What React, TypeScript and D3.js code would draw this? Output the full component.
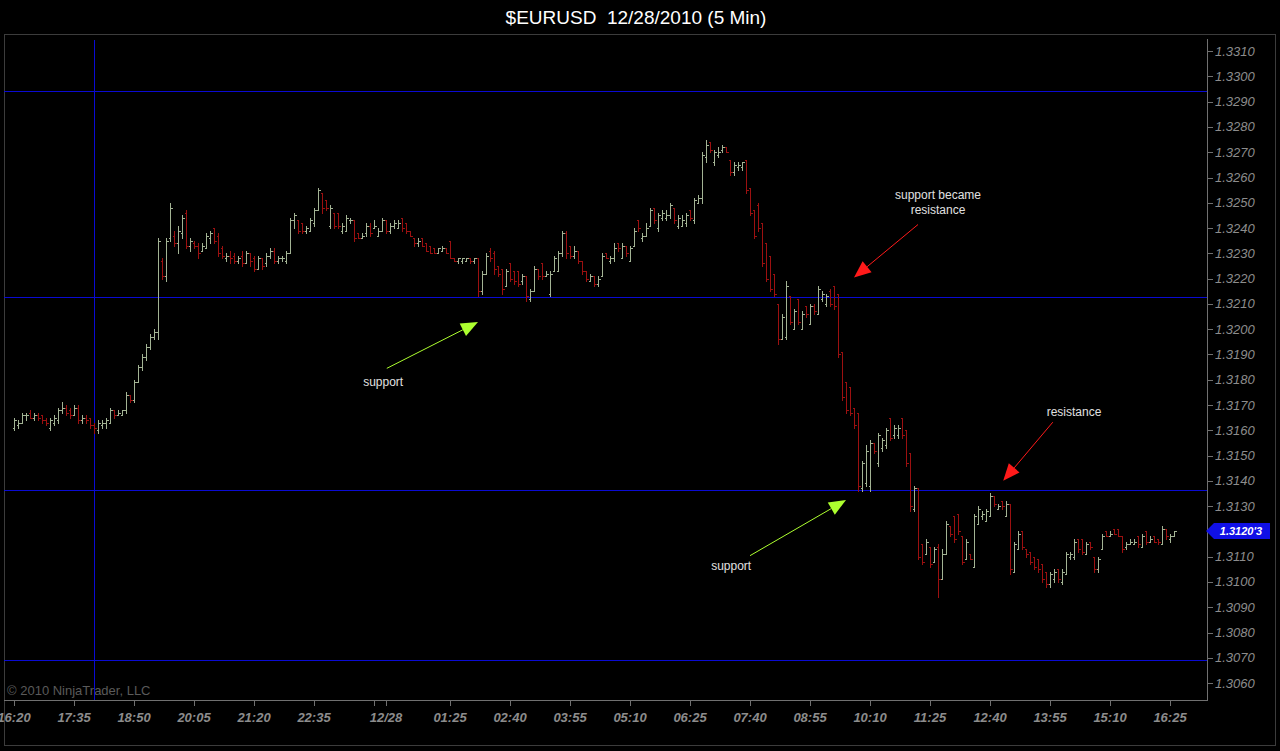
import React from 'react'
import * as d3 from 'd3'

// prices are kept in pips above 1.3000 -> price = BASE + p * PIP
const BASE = 1.3
const PIP = 0.0001

// 5 min OHLC bars [open, high, low, close], first bar 16:20 on 12/27
const dec27Bars: number[][] = [
  [161, 165, 160, 164], [162, 164, 161, 163], [163, 167, 163, 166], [166, 167, 164, 166],
  [167, 168, 165, 165], [165, 167, 164, 166], [166, 167, 164, 165], [166, 166, 163, 164],
  [164, 165, 162, 163], [161, 165, 160, 164], [163, 166, 162, 165], [164, 169, 163, 168],
  [168, 171, 167, 169], [169, 170, 166, 167], [168, 169, 165, 166], [166, 170, 166, 169],
  [169, 170, 163, 164], [164, 166, 163, 165], [165, 166, 163, 164], [165, 165, 161, 162],
  [162, 163, 159, 161], [160, 164, 159, 163], [162, 164, 161, 163], [163, 165, 161, 164],
  [163, 169, 163, 168], [168, 168, 165, 166], [166, 168, 166, 167], [166, 168, 166, 168],
  [168, 175, 167, 174], [174, 174, 171, 172], [172, 180, 171, 179], [179, 186, 179, 185],
  [185, 190, 184, 189], [189, 194, 188, 193], [193, 198, 192, 197], [197, 200, 196, 199],
  [199, 236, 196, 235], [227, 228, 220, 221], [221, 236, 219, 235], [236, 250, 235, 248],
  [237, 239, 233, 234], [234, 241, 230, 239], [238, 245, 236, 244], [246, 247, 232, 233],
  [233, 236, 231, 235], [234, 235, 232, 233], [233, 234, 228, 230], [231, 234, 231, 233],
  [232, 238, 232, 237], [236, 239, 234, 238], [240, 240, 234, 235], [237, 238, 229, 230],
  [232, 233, 228, 229], [228, 230, 227, 229], [229, 231, 226, 228], [229, 230, 226, 227],
  [227, 229, 226, 228], [229, 231, 225, 226], [226, 231, 226, 230], [230, 230, 225, 227],
  [228, 229, 223, 224], [224, 229, 224, 228], [228, 228, 224, 225], [226, 230, 225, 229],
  [229, 232, 228, 231], [231, 232, 226, 227], [227, 229, 226, 228], [228, 229, 227, 228],
  [227, 231, 226, 230], [230, 244, 230, 243], [243, 246, 240, 245], [243, 243, 238, 239],
  [242, 242, 238, 239], [239, 241, 238, 240], [239, 244, 239, 243], [242, 248, 241, 247],
  [247, 256, 247, 255], [254, 254, 246, 248], [251, 251, 247, 248], [241, 249, 240, 248],
  [246, 246, 240, 241], [246, 246, 240, 241], [239, 242, 238, 241], [239, 245, 239, 244],
  [243, 244, 242, 243], [243, 243, 235, 236], [238, 238, 236, 236], [236, 238, 236, 237],
  [238, 242, 237, 241], [241, 242, 237, 238], [240, 243, 240, 241], [237, 240, 237, 239],
  [239, 244, 239, 243]
]

const dec28AsiaBars: number[][] = [
  [243, 243, 238, 239], [239, 242, 238, 241], [241, 243, 240, 242], [240, 243, 240, 242],
  [244, 244, 239, 240], [242, 242, 238, 239], [239, 239, 237, 237], [236, 236, 233, 234],
  [234, 236, 233, 235], [236, 236, 233, 233], [234, 234, 231, 231], [233, 233, 230, 230],
  [232, 232, 230, 230], [230, 232, 230, 232], [231, 233, 231, 232], [232, 232, 230, 230],
  [235, 235, 228, 228], [228, 228, 227, 227], [227, 228, 226, 228], [227, 228, 226, 228],
  [227, 228, 227, 228], [228, 228, 226, 227], [227, 228, 226, 228], [228, 228, 213, 215],
  [215, 223, 214, 222], [222, 230, 222, 229], [231, 232, 227, 228], [230, 231, 222, 224],
  [225, 225, 221, 222], [224, 224, 214, 216], [217, 224, 217, 223], [226, 226, 219, 220],
  [223, 223, 218, 219], [223, 223, 217, 218], [219, 222, 218, 221], [221, 221, 211, 213],
  [212, 216, 211, 215], [215, 225, 215, 224], [224, 224, 220, 221], [226, 226, 220, 221],
  [221, 223, 221, 222], [214, 223, 213, 222], [223, 229, 223, 228], [223, 231, 223, 230],
  [230, 239, 229, 238], [238, 239, 228, 230], [233, 233, 228, 229], [229, 233, 228, 231],
  [231, 231, 226, 227], [227, 227, 222, 223], [223, 223, 219, 220], [219, 222, 219, 221],
  [221, 221, 217, 218], [218, 221, 217, 220], [221, 230, 221, 229], [230, 230, 228, 228],
  [227, 229, 226, 228], [228, 234, 227, 232], [234, 234, 231, 232], [228, 234, 228, 233],
  [233, 233, 229, 230], [227, 233, 227, 232], [233, 240, 233, 239], [243, 243, 239, 240],
  [236, 238, 235, 237], [237, 242, 237, 240], [241, 248, 241, 247], [248, 248, 242, 243],
  [240, 246, 239, 245], [244, 247, 243, 246], [244, 247, 243, 245], [245, 250, 244, 249],
  [248, 248, 242, 243], [241, 245, 240, 244], [241, 245, 241, 243], [242, 246, 241, 245],
  [247, 247, 243, 244], [243, 252, 242, 251], [250, 253, 250, 252], [252, 270, 250, 269],
  [268, 275, 266, 273], [274, 274, 270, 271], [266, 271, 265, 270], [269, 272, 268, 270],
  [271, 273, 270, 272], [272, 272, 270, 270], [267, 267, 261, 262], [262, 266, 261, 265],
  [264, 266, 263, 265], [264, 266, 263, 266], [267, 267, 254, 255], [256, 256, 245, 246]
]

const dec28EuBars: number[][] = [
  [247, 247, 236, 237], [249, 250, 239, 240], [242, 242, 225, 226], [234, 234, 219, 220],
  [229, 229, 215, 216], [222, 222, 213, 214], [210, 210, 194, 196], [196, 206, 196, 205],
  [197, 219, 196, 217], [213, 213, 202, 203], [200, 208, 200, 207], [212, 212, 202, 203],
  [200, 207, 200, 206], [209, 209, 205, 206], [202, 210, 202, 209], [209, 210, 206, 207],
  [206, 217, 206, 216], [212, 215, 211, 214], [210, 214, 209, 213], [215, 216, 209, 210],
  [217, 217, 208, 209], [214, 214, 189, 190], [191, 191, 172, 173], [179, 179, 167, 168],
  [177, 177, 166, 167], [169, 169, 161, 162], [167, 167, 136, 138], [137, 148, 136, 147],
  [139, 154, 138, 152], [138, 156, 136, 155], [155, 155, 151, 152], [147, 159, 146, 158],
  [153, 157, 152, 156], [154, 161, 153, 160], [165, 165, 156, 157], [158, 162, 157, 161],
  [158, 162, 157, 161], [165, 165, 157, 158], [160, 160, 146, 147], [151, 151, 128, 130],
  [129, 138, 128, 137], [137, 137, 109, 110], [115, 115, 107, 108], [111, 117, 111, 116],
  [114, 114, 106, 107], [108, 114, 108, 113], [114, 115, 94, 101], [101, 113, 101, 111],
  [111, 124, 111, 123], [122, 122, 118, 119], [126, 126, 116, 117], [127, 127, 119, 120],
  [118, 118, 107, 108], [109, 117, 109, 116], [111, 111, 109, 109], [106, 127, 106, 126],
  [123, 130, 123, 129], [126, 128, 125, 127], [124, 129, 124, 128], [126, 135, 126, 134],
  [134, 134, 130, 131], [129, 131, 129, 130], [132, 132, 129, 130], [126, 132, 126, 131],
  [131, 131, 103, 105], [104, 116, 104, 115], [113, 120, 113, 119], [120, 120, 113, 114],
  [113, 113, 110, 111], [112, 112, 107, 108], [110, 110, 105, 106], [109, 109, 104, 105],
  [107, 107, 100, 101], [104, 104, 98, 99], [99, 104, 98, 103], [101, 105, 100, 104],
  [105, 105, 100, 101], [100, 105, 99, 104], [103, 112, 103, 111], [110, 112, 109, 111],
  [110, 117, 109, 116], [117, 117, 112, 113], [117, 117, 111, 112], [111, 116, 111, 115],
  [116, 116, 113, 114], [110, 110, 104, 105], [105, 110, 104, 109], [113, 119, 113, 118],
  [120, 120, 118, 118], [118, 120, 118, 119], [121, 121, 119, 119], [121, 121, 118, 118],
  [118, 118, 112, 113], [114, 116, 113, 115], [115, 117, 115, 116], [115, 117, 115, 116],
  [118, 118, 114, 115], [114, 119, 114, 118], [120, 120, 115, 116], [116, 118, 116, 117],
  [118, 118, 116, 116], [117, 117, 115, 116], [115, 122, 115, 121], [121, 121, 117, 118],
  [117, 119, 116, 118], [118, 120, 118, 120.3]
]

// time axis: bar index of each tick and its label
const tickBars = [0, 15, 30, 45, 60, 75, 90, 93, 109, 124, 139, 154, 169, 184, 199, 214, 229, 244, 259, 274, 289]
const tickLabels = ['16:20', '17:35', '18:50', '20:05', '21:20', '22:35', '', '12/28', '01:25', '02:40', '03:55',
  '05:10', '06:25', '07:40', '08:55', '10:10', '11:25', '12:40', '13:55', '15:10', '16:25']

const priceTicks = [1.306, 1.307, 1.308, 1.309, 1.31, 1.311, 1.312, 1.313, 1.314, 1.315, 1.316, 1.317, 1.318,
  1.319, 1.32, 1.321, 1.322, 1.323, 1.324, 1.325, 1.326, 1.327, 1.328, 1.329, 1.33, 1.331]

// drawn horizontal lines and the vertical marker bar
const levelPrices = [1.32942, 1.32127, 1.31363, 1.30691]
const markerBar = 20
const lastPriceLabel = "1.3120'3"

// annotations: text anchor + arrow tail and tip, in (bar index, pips)
const notes = [
  { lines: ['support'], at: [92.3, 178.7], tail: [93.2, 184.5], tip: [116, 202.8], color: '#adff2f' },
  { lines: ['support became', 'resistance'], at: [231, 252.6], tail: [226, 241.4], tip: [210, 220.4], color: '#ff1a1a' },
  { lines: ['support'], at: [179.3, 105.9], tail: [184, 110.4], tip: [208, 132.4], color: '#adff2f' },
  { lines: ['resistance'], at: [265, 166.8], tail: [259.7, 163.2], tip: [247.3, 140], color: '#ff1a1a' }
]

const W = 1280
const H = 751
const plot = { left: 4, right: 1207, top: 40, bottom: 700 }
const font = 'Arial, "Liberation Sans", sans-serif'
const upColor = '#a3b394'
const downColor = '#9c1010'
const levelColor = '#0a0ad2'

const App = () => {
  const bars = [...dec27Bars, ...dec28AsiaBars, ...dec28EuBars]
  const x = d3.scaleLinear().domain([0, 290]).range([14, 1174])
  const y = d3.scaleLinear().domain([1.30533, 1.33144]).range([plot.bottom, plot.top])
  const yp = (p: number) => y(BASE + p * PIP)
  const px = (v: number) => Math.round(v) + 0.5

  const barPaths = bars.map((b, i) => {
    const [o, h, l, c] = b
    const cx = px(x(i))
    const d = `M${cx},${Math.round(yp(h))}V${Math.round(yp(l)) + 1}` +
      `M${cx - 2},${px(yp(o))}H${cx}M${cx},${px(yp(c))}H${cx + 2}`
    return <path key={i} d={d} stroke={c >= o ? upColor : downColor} strokeWidth={1} fill="none" />
  })

  const arrows = notes.map((n, k) => {
    const x0 = x(n.tail[0]), y0 = yp(n.tail[1])
    const x1 = x(n.tip[0]), y1 = yp(n.tip[1])
    const ang = Math.atan2(y1 - y0, x1 - x0)
    const len = 17, half = 7
    const bx = x1 - len * Math.cos(ang), by = y1 - len * Math.sin(ang)
    const nx = -Math.sin(ang) * half, ny = Math.cos(ang) * half
    const head = `M${x1},${y1}L${bx + nx},${by + ny}L${bx - nx},${by - ny}Z`
    const tx = x(n.at[0]), ty = yp(n.at[1])
    return (
      <g key={k}>
        <line x1={x0} y1={y0} x2={bx} y2={by} stroke={n.color} strokeWidth={1} />
        <path d={head} fill={n.color} />
        {n.lines.map((t, j) => (
          <text key={j} x={tx} y={ty + j * 15} textAnchor="middle" dominantBaseline="middle"
            fill="#e0e0e0" fontSize={12} fontFamily={font}>{t}</text>
        ))}
      </g>
    )
  })

  const lastY = Math.round(yp(bars[bars.length - 1][3]))

  return (
    <svg width={W} height={H} style={{ position: 'absolute', left: 0, top: 0, background: '#000' }}>
      <rect x={0} y={0} width={W} height={H} fill="#000" />
      <text x={636} y={24} textAnchor="middle" fill="#fff" fontSize={19} fontFamily={font}
        style={{ whiteSpace: 'pre' }}>{'$EURUSD  12/28/2010 (5 Min)'}</text>
      <rect x={4.5} y={34.5} width={1271} height={711} fill="none" stroke="#3c3c3c" />

      {/* y axis, the label under the last price marker is hidden */}
      <line x1={px(plot.right)} y1={plot.top - 1} x2={px(plot.right)} y2={plot.bottom} stroke="#707070" />
      {priceTicks.map((t, i) => (
        <g key={i}>
          <line x1={plot.right} x2={plot.right + 6} y1={px(y(t))} y2={px(y(t))} stroke="#707070" />
          {Math.abs(y(t) - lastY) > 9 && (
            <text x={plot.right + 8} y={y(t) + 4.5} fill="#8c8c8c" fontSize={13} fontStyle="italic"
              fontFamily={font}>{t.toFixed(4)}</text>
          )}
        </g>
      ))}

      {/* x axis */}
      <line x1={plot.left} x2={plot.right + 1} y1={px(plot.bottom)} y2={px(plot.bottom)} stroke="#707070" />
      {tickBars.map((b, i) => (
        <g key={i}>
          <line x1={px(x(b))} x2={px(x(b))} y1={plot.bottom} y2={plot.bottom + 6} stroke="#707070" />
          <text x={x(b)} y={plot.bottom + 22} textAnchor="middle" fill="#8c8c8c" fontSize={13}
            fontStyle="italic" fontWeight="bold" fontFamily={font}>{tickLabels[i]}</text>
        </g>
      ))}

      <text x={7} y={695} fill="#5a5a5a" fontSize={13} fontFamily={font}>© 2010 NinjaTrader, LLC</text>

      {/* drawn lines */}
      <g shapeRendering="crispEdges">
        {levelPrices.map((v, i) => (
          <line key={i} x1={plot.left} x2={plot.right} y1={px(y(v))} y2={px(y(v))} stroke={levelColor} />
        ))}
        <line x1={px(x(markerBar))} x2={px(x(markerBar))} y1={plot.top} y2={plot.bottom} stroke={levelColor} />
      </g>

      <g shapeRendering="crispEdges">{barPaths}</g>
      {arrows}

      {/* last price marker */}
      <path d={`M${plot.right - 1},${lastY}L${plot.right + 7},${lastY - 8}H1270V${lastY + 8}H${plot.right + 7}Z`}
        fill="#1010e6" />
      <text x={1241} y={lastY + 4} textAnchor="middle" fill="#fff" fontSize={11} fontWeight="bold"
        fontStyle="italic" fontFamily={font}>{lastPriceLabel}</text>
    </svg>
  )
}

export default App
